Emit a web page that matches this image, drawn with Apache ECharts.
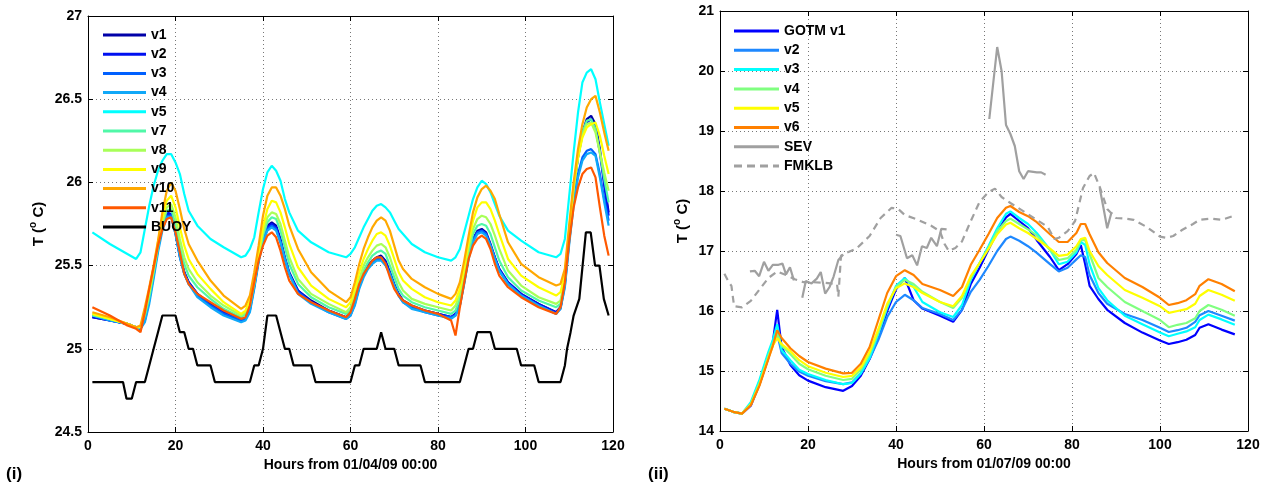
<!DOCTYPE html>
<html><head><meta charset="utf-8">
<script src="https://cdn.jsdelivr.net/npm/echarts@6/dist/echarts.min.js"></script>
<style>html,body{margin:0;padding:0;background:#fff}#c{width:1276px;height:488px}</style>
</head><body><div id="c"></div>
<script>
// ---------- Panel (i) ----------
const hoursL = [1,5,9,11, 12,13,14,15,16,17,18,19,20,21,22,23, 25,28,31, 35,36,37,38,39,40,41,42,43,44,45,46, 48,51,55, 59,60,61,62,63,64,65,66,67,68,69,70,71,72, 74,77,80, 83,84,85,86,87,88,89,90,91,92,93,94, 96,99,103, 107,108,109,110,111,112,113,114,115,116,117,118,119];
const v1L = [25.19,25.17,25.15,25.13, 25.12,25.18,25.30,25.45,25.61,25.74,25.81,25.80,25.70,25.56,25.46,25.40, 25.33,25.27,25.22, 25.17,25.18,25.24,25.38,25.54,25.66,25.74,25.76,25.74,25.66,25.55,25.46, 25.35,25.29,25.23, 25.19,25.21,25.28,25.38,25.45,25.50,25.53,25.55,25.56,25.53,25.46,25.39,25.33,25.29, 25.26,25.23,25.21, 25.19,25.21,25.27,25.41,25.56,25.66,25.71,25.72,25.70,25.63,25.55,25.48, 25.40,25.33,25.27, 25.22,25.25,25.40,25.70,25.96,26.16,26.30,26.38,26.40,26.35,26.20,26.00,25.82];
const v2L = [25.19,25.17,25.15,25.13, 25.12,25.18,25.30,25.45,25.61,25.74,25.82,25.81,25.70,25.56,25.46,25.40, 25.33,25.26,25.22, 25.17,25.18,25.24,25.38,25.54,25.66,25.73,25.75,25.73,25.65,25.54,25.45, 25.35,25.28,25.23, 25.19,25.21,25.28,25.38,25.45,25.50,25.53,25.55,25.55,25.52,25.46,25.38,25.33,25.29, 25.25,25.23,25.21, 25.19,25.21,25.27,25.41,25.56,25.66,25.70,25.71,25.69,25.62,25.55,25.48, 25.40,25.33,25.27, 25.22,25.25,25.40,25.69,25.95,26.15,26.29,26.36,26.38,26.33,26.18,25.98,25.80];
const v3L = [25.20,25.17,25.15,25.13, 25.12,25.17,25.29,25.44,25.60,25.73,25.80,25.80,25.69,25.55,25.45,25.39, 25.32,25.26,25.21, 25.17,25.18,25.23,25.37,25.53,25.65,25.72,25.74,25.72,25.64,25.54,25.45, 25.34,25.28,25.22, 25.18,25.20,25.27,25.37,25.44,25.49,25.52,25.54,25.54,25.51,25.45,25.38,25.32,25.28, 25.25,25.22,25.20, 25.19,25.20,25.26,25.40,25.55,25.65,25.70,25.71,25.69,25.62,25.54,25.47, 25.39,25.32,25.26, 25.21,25.24,25.38,25.65,25.88,26.05,26.15,26.19,26.20,26.17,26.05,25.90,25.77];
const v4L = [25.20,25.17,25.15,25.13, 25.12,25.16,25.27,25.42,25.58,25.71,25.79,25.79,25.69,25.55,25.45,25.39, 25.31,25.25,25.20, 25.16,25.17,25.22,25.36,25.52,25.64,25.71,25.73,25.71,25.64,25.54,25.45, 25.33,25.27,25.22, 25.18,25.20,25.26,25.36,25.43,25.48,25.51,25.53,25.53,25.50,25.45,25.38,25.32,25.28, 25.24,25.22,25.20, 25.18,25.20,25.26,25.39,25.54,25.64,25.69,25.70,25.68,25.62,25.54,25.47, 25.39,25.32,25.26, 25.21,25.24,25.37,25.63,25.86,26.03,26.13,26.17,26.18,26.16,26.03,25.88,25.74];
const v5L = [25.70,25.63,25.57,25.54, 25.58,25.72,25.86,25.98,26.07,26.13,26.17,26.17,26.12,26.05,25.93,25.83, 25.74,25.66,25.61, 25.55,25.56,25.60,25.67,25.82,25.96,26.06,26.10,26.07,26.01,25.90,25.82, 25.71,25.64,25.58, 25.55,25.57,25.61,25.67,25.73,25.78,25.83,25.86,25.87,25.85,25.82,25.77,25.72,25.69, 25.63,25.58,25.55, 25.53,25.55,25.60,25.70,25.80,25.90,25.97,26.01,25.99,25.94,25.87,25.80, 25.71,25.65,25.58, 25.55,25.57,25.66,25.92,26.18,26.42,26.60,26.66,26.68,26.62,26.48,26.35,26.22];
const v7L = [25.20,25.18,25.15,25.13, 25.13,25.20,25.31,25.46,25.61,25.75,25.83,25.84,25.75,25.61,25.51,25.44, 25.37,25.30,25.24, 25.19,25.21,25.26,25.39,25.55,25.68,25.76,25.79,25.78,25.71,25.61,25.51, 25.39,25.31,25.25, 25.21,25.23,25.31,25.40,25.47,25.52,25.56,25.58,25.59,25.57,25.50,25.43,25.36,25.32, 25.28,25.25,25.23, 25.21,25.23,25.30,25.43,25.58,25.69,25.74,25.75,25.74,25.69,25.61,25.53, 25.43,25.35,25.29, 25.25,25.27,25.41,25.70,25.96,26.16,26.30,26.37,26.38,26.32,26.18,26.02,25.88];
const v8L = [25.21,25.18,25.15,25.13, 25.13,25.21,25.33,25.47,25.62,25.76,25.85,25.87,25.79,25.66,25.55,25.48, 25.40,25.32,25.26, 25.20,25.22,25.27,25.40,25.56,25.70,25.79,25.82,25.81,25.75,25.65,25.55, 25.42,25.33,25.27, 25.22,25.25,25.33,25.42,25.50,25.55,25.59,25.62,25.63,25.61,25.55,25.47,25.40,25.35, 25.30,25.27,25.25, 25.23,25.26,25.33,25.46,25.61,25.72,25.78,25.80,25.79,25.75,25.68,25.60, 25.47,25.38,25.31, 25.27,25.29,25.42,25.70,25.96,26.15,26.28,26.35,26.36,26.30,26.18,26.06,25.95];
const v9L = [25.21,25.18,25.15,25.13, 25.13,25.23,25.35,25.49,25.64,25.79,25.89,25.92,25.85,25.73,25.62,25.54, 25.45,25.36,25.28, 25.21,25.23,25.29,25.42,25.58,25.73,25.84,25.89,25.88,25.82,25.73,25.63, 25.49,25.38,25.30, 25.25,25.28,25.36,25.46,25.54,25.60,25.65,25.69,25.70,25.68,25.62,25.54,25.46,25.41, 25.36,25.31,25.28, 25.26,25.29,25.36,25.49,25.64,25.77,25.85,25.88,25.88,25.84,25.77,25.69, 25.54,25.44,25.37, 25.32,25.34,25.45,25.72,25.98,26.15,26.27,26.33,26.35,26.36,26.28,26.16,26.05];
const v10L = [25.22,25.19,25.15,25.13, 25.14,25.25,25.37,25.50,25.65,25.82,25.95,26.00,25.95,25.84,25.72,25.63, 25.53,25.41,25.32, 25.24,25.26,25.32,25.46,25.62,25.80,25.92,25.97,25.97,25.92,25.84,25.74, 25.60,25.46,25.35, 25.28,25.31,25.40,25.51,25.60,25.67,25.73,25.77,25.79,25.77,25.71,25.62,25.53,25.48, 25.42,25.37,25.33, 25.30,25.33,25.40,25.53,25.68,25.82,25.91,25.96,25.98,25.95,25.90,25.81, 25.64,25.51,25.43, 25.38,25.39,25.48,25.75,26.00,26.20,26.35,26.45,26.50,26.52,26.42,26.30,26.19];
const v11L = [25.25,25.20,25.14,25.12, 25.10,25.22,25.36,25.49,25.62,25.72,25.78,25.79,25.70,25.58,25.45,25.39, 25.33,25.28,25.23, 25.18,25.19,25.26,25.40,25.53,25.62,25.68,25.70,25.67,25.59,25.49,25.41, 25.33,25.28,25.23, 25.19,25.22,25.30,25.39,25.45,25.49,25.53,25.55,25.55,25.51,25.43,25.36,25.32,25.29, 25.26,25.23,25.21, 25.17,25.08,25.25,25.40,25.54,25.62,25.66,25.68,25.66,25.60,25.51,25.44, 25.37,25.31,25.25, 25.21,25.25,25.40,25.65,25.85,25.97,26.05,26.08,26.09,26.03,25.85,25.68,25.56];
const buoyHours = [1,8,8.8,10,11,13,14,15,16,17,20,21,22,23,24,25,28,29,37,38,39,40,41,43,44,45,46,47,51,52,60,61,62,63,66,67,68,70,71,76,77,85,86,87,88,89,92,93,98,99,102,103,108,109,109.5,110.3,111,112.3,113.8,114.9,115.9,116.9,117.9,119];
const buoyTemps = [24.8,24.8,24.7,24.7,24.8,24.8,24.9,25.0,25.1,25.2,25.2,25.1,25.1,25.0,25.0,24.9,24.9,24.8,24.8,24.9,24.9,25.0,25.2,25.2,25.1,25.0,25.0,24.9,24.9,24.8,24.8,24.9,24.9,25.0,25.0,25.1,25.0,25.0,24.9,24.9,24.8,24.8,24.9,25.0,25.0,25.1,25.1,25.0,25.0,24.9,24.9,24.8,24.8,24.9,25.0,25.1,25.2,25.3,25.7,25.7,25.5,25.5,25.3,25.2];

// ---------- Panel (ii) ----------
const hoursR = [1,3,5,7,9,11, 12,13,14,16,18,20, 24,28,30,32,34,36, 38,40,42,44,46,50, 53,55,57,59,61,63, 65,66,68,70,72,75, 77,79,81,82,83,84, 86,88,92,96,100,102, 104,106,108,109,111,114, 117];
const g1R = [14.37,14.32,14.29,14.42,14.78,15.22, 15.48,16.02,15.40,15.10,14.93,14.84, 14.73,14.67,14.75,14.92,15.20,15.56, 16.00,16.36,16.55,16.18,16.04,15.92, 15.82,16.02,16.45,16.72,17.02,17.32, 17.56,17.62,17.50,17.38,17.18,16.90, 16.68,16.78,16.95,17.10,16.78,16.42, 16.20,16.02,15.80,15.64,15.51,15.45, 15.48,15.52,15.60,15.72,15.78,15.69, 15.61];
const g2R = [14.37,14.32,14.29,14.46,14.83,15.28, 15.48,15.62,15.30,15.12,14.99,14.92, 14.83,14.78,14.81,14.96,15.20,15.52, 15.90,16.15,16.27,16.18,16.05,15.95, 15.85,16.02,16.32,16.52,16.75,17.00, 17.20,17.24,17.17,17.08,16.97,16.78, 16.66,16.72,16.86,16.93,16.90,16.60, 16.30,16.12,15.95,15.85,15.72,15.65, 15.68,15.72,15.82,15.93,16.00,15.92, 15.84];
const g3R = [14.37,14.32,14.29,14.48,14.86,15.32, 15.52,15.78,15.35,15.18,15.02,14.95, 14.85,14.78,14.80,14.96,15.22,15.62, 16.05,16.42,16.55,16.40,16.15,15.98, 15.90,16.10,16.52,16.80,17.08,17.38, 17.62,17.66,17.55,17.45,17.30,17.02, 16.78,16.82,16.98,17.15,17.10,16.78, 16.38,16.18,15.92,15.78,15.64,15.58, 15.62,15.66,15.73,15.85,15.94,15.86, 15.77];
const g4R = [14.37,14.32,14.29,14.45,14.80,15.25, 15.45,15.62,15.42,15.28,15.12,15.03, 14.92,14.85,14.87,15.02,15.28,15.65, 16.08,16.40,16.52,16.45,16.32,16.15, 16.05,16.22,16.55,16.80,17.05,17.33, 17.50,17.54,17.45,17.36,17.26,17.02, 16.85,16.88,17.02,17.18,17.18,16.95, 16.55,16.40,16.15,16.00,15.85,15.73, 15.77,15.80,15.88,16.00,16.10,16.02, 15.92];
const g5R = [14.37,14.32,14.29,14.44,14.78,15.22, 15.42,15.55,15.45,15.33,15.18,15.08, 14.97,14.90,14.92,15.06,15.32,15.70, 16.12,16.38,16.46,16.40,16.30,16.15, 16.08,16.25,16.58,16.80,17.03,17.28, 17.44,17.47,17.38,17.30,17.20,17.04, 16.92,16.94,17.08,17.20,17.22,17.00, 16.75,16.60,16.35,16.22,16.08,15.97, 16.00,16.03,16.12,16.25,16.35,16.27, 16.17];
const g6R = [14.37,14.32,14.29,14.43,14.76,15.20, 15.42,15.68,15.55,15.38,15.25,15.15, 15.04,14.96,14.97,15.12,15.40,15.85, 16.30,16.58,16.68,16.60,16.45,16.35, 16.25,16.40,16.77,17.02,17.28,17.55, 17.72,17.75,17.65,17.58,17.48,17.28, 17.15,17.15,17.30,17.45,17.45,17.28, 16.98,16.80,16.55,16.40,16.22,16.10, 16.13,16.18,16.28,16.42,16.53,16.45, 16.33];
// SEV (gaps marked with null)
const sevHours = [6.8,7.9,8.9,10,11,12,13.3,14.2,15,15.9,16.8, 17.8, 18.7,19.5,20.8,22,22.9,23.9,24.9,25.8,26.9,28, 34, 40,41,42.5,43.7,44.8,45.9,47,48,49.3,50.3,51.5, 56, 61.2,63,64,65,66,67,68,69,70,72,73,74, 80, 86.3,87.2,88,89];
const sevTemps = [16.66,16.67,16.58,16.82,16.67,16.77,16.77,16.79,16.61,16.73,16.51, null, 16.22,16.5,16.46,16.54,16.65,16.29,16.4,16.57,16.85,16.94, null, 17.27,17.25,16.88,16.93,16.76,17.08,17.05,17.22,17.08,17.37,17.36, null, 19.2,20.4,20.0,19.1,18.95,18.75,18.33,18.2,18.33,18.31,18.31,18.27, null, 18.05,17.7,17.38,17.65];
const fmkHours = [1,2,2.6,3.2,5,7,9,11,13,15,17,19,21,24,26.6,26.9,27.5,28.5,31,34,36.5,39,40.5,42,45,48,50,51,52,53.5,55,57,59,61,62.5,64,66,69,72,74.5,76,77,79,80.7,82.5,84,85,86.4,88,90,92,94,97,100,101.5,103,105,107.5,109,111.5,114,116.5];
const fmkTemps = [16.62,16.48,16.42,16.08,16.06,16.17,16.36,16.55,16.66,16.6,16.53,16.48,16.48,16.47,16.45,16.24,16.92,16.96,17.04,17.25,17.55,17.72,17.7,17.6,17.52,17.42,17.33,17.12,17.0,17.05,17.16,17.5,17.82,17.98,18.04,17.9,17.8,17.66,17.52,17.4,17.2,17.22,17.33,17.5,18.05,18.25,18.3,18.05,17.7,17.55,17.54,17.52,17.4,17.24,17.22,17.25,17.35,17.45,17.52,17.54,17.52,17.58];

const FONT = '"Liberation Sans", Arial, Helvetica, sans-serif';
function pairs(h, v) { return h.map((x, i) => [x, (v[i] === null || v[i] === undefined) ? '-' : v[i]]); }

const chart = echarts.init(document.getElementById('c'), null, {renderer: 'canvas'});
const lbl = {color: '#000', fontWeight: 'bold', fontSize: 14, fontFamily: FONT};
const gridLine = {show: true, lineStyle: {type: [1, 3], color: '#777', width: 1}};
function xMain(gi, name) {
  return {gridIndex: gi, type: 'value', min: 0, max: 120, interval: 20, position: 'bottom',
    axisLine: {show: true, onZero: false, lineStyle: {color: '#000', width: 1}},
    axisTick: {show: true, inside: true, length: 5, lineStyle: {color: '#000'}},
    axisLabel: Object.assign({margin: 7}, lbl), splitLine: gridLine,
    name: name, nameLocation: 'middle', nameGap: 22,
    nameTextStyle: {color: '#000', fontWeight: 'bold', fontSize: 14, fontFamily: FONT}};
}
function xTop(gi) {
  return {gridIndex: gi, type: 'value', min: 0, max: 120, interval: 20, position: 'top',
    axisLine: {show: true, onZero: false, lineStyle: {color: '#000', width: 1}},
    axisTick: {show: true, inside: true, length: 5, lineStyle: {color: '#000'}},
    axisLabel: {show: false}, splitLine: {show: false}};
}
function yMain(gi, min, max, iv, gap) {
  return {gridIndex: gi, type: 'value', min: min, max: max, interval: iv, position: 'left',
    axisLine: {show: true, onZero: false, lineStyle: {color: '#000', width: 1}},
    axisTick: {show: true, inside: true, length: 5, lineStyle: {color: '#000'}},
    axisLabel: Object.assign({margin: 6}, lbl), splitLine: gridLine,
    name: '{a|T (}{s|o}{a| C)}', nameLocation: 'middle', nameRotate: 90, nameGap: gap,
    nameTextStyle: {rich: {
      a: {color: '#000', fontWeight: 'bold', fontSize: 15, fontFamily: FONT, lineHeight: 18, verticalAlign: 'bottom'},
      s: {color: '#000', fontWeight: 'bold', fontSize: 10, fontFamily: FONT, lineHeight: 18, verticalAlign: 'top'}}}};
}
function yRight(gi, min, max, iv) {
  return {gridIndex: gi, type: 'value', min: min, max: max, interval: iv, position: 'right',
    axisLine: {show: true, onZero: false, lineStyle: {color: '#000', width: 1}},
    axisTick: {show: true, inside: true, length: 5, lineStyle: {color: '#000'}},
    axisLabel: {show: false}, splitLine: {show: false}};
}
function line(name, data, color, xi, yi, dash) {
  return {name: name, type: 'line', data: data, xAxisIndex: xi, yAxisIndex: yi,
    symbol: 'none', showSymbol: false, smooth: false, connectNulls: false, animation: false,
    lineStyle: {color: color, width: 2.2, type: dash || 'solid'}, itemStyle: {color: color},
    emphasis: {disabled: true}};
}

const leftSeries = [
  line('v1', pairs(hoursL, v1L), '#0000A8', 0, 0),
  line('v2', pairs(hoursL, v2L), '#0010F0', 0, 0),
  line('v3', pairs(hoursL, v3L), '#0060FF', 0, 0),
  line('v4', pairs(hoursL, v4L), '#10A8F8', 0, 0),
  line('v5', pairs(hoursL, v5L), '#00FFFF', 0, 0),
  line('v7', pairs(hoursL, v7L), '#50F8A8', 0, 0),
  line('v8', pairs(hoursL, v8L), '#A8FF58', 0, 0),
  line('v9', pairs(hoursL, v9L), '#FFFF00', 0, 0),
  line('v10', pairs(hoursL, v10L), '#FFA800', 0, 0),
  line('v11', pairs(hoursL, v11L), '#FF5800', 0, 0),
  line('BUOY', pairs(buoyHours, buoyTemps), '#000000', 0, 0)
];
const rightSeries = [
  line('GOTM v1', pairs(hoursR, g1R), '#0000FF', 2, 2),
  line('v2 ', pairs(hoursR, g2R), '#1E88FF', 2, 2),
  line('v3 ', pairs(hoursR, g3R), '#00FFFF', 2, 2),
  line('v4 ', pairs(hoursR, g4R), '#80FF80', 2, 2),
  line('v5 ', pairs(hoursR, g5R), '#FFFF00', 2, 2),
  line('v6', pairs(hoursR, g6R), '#FF8000', 2, 2),
  line('SEV', pairs(sevHours, sevTemps), '#A0A0A0', 2, 2),
  line('FMKLB', pairs(fmkHours, fmkTemps), '#A0A0A0', 2, 2, [7, 5])
];

const legendText = {color: '#000', fontWeight: 'bold', fontSize: 14, fontFamily: FONT, lineHeight: 14};
const DASH_ICON = 'path://M0,0h8v3h-8z M13,0h8v3h-8z M26,0h8v3h-8z M39,0h6v3h-6z';
function legendData(names) {
  return names.map(n => ({name: n, icon: n === 'FMKLB' ? DASH_ICON : 'rect'}));
}
chart.setOption({
  animation: false,
  backgroundColor: '#fff',
  grid: [
    {left: 88, top: 16, width: 525, height: 416, show: false},
    {left: 720, top: 11, width: 528, height: 420, show: false}
  ],
  xAxis: [xMain(0, 'Hours from 01/04/09 00:00'), xTop(0), xMain(1, 'Hours from 01/07/09 00:00'), xTop(1)],
  yAxis: [yMain(0, 24.5, 27, 0.5, 42), yRight(0, 24.5, 27, 0.5), yMain(1, 14, 21, 1, 30), yRight(1, 14, 21, 1)],
  legend: [
    {data: legendData(['v1','v2','v3','v4','v5','v7','v8','v9','v10','v11','BUOY']), orient: 'vertical',
      left: 103, top: 28, padding: 0, itemWidth: 43, itemHeight: 3, itemGap: 5.2, symbolKeepAspect: false,
      textStyle: legendText, selectedMode: false},
    {data: legendData(['GOTM v1','v2 ','v3 ','v4 ','v5 ','v6','SEV','FMKLB']), orient: 'vertical',
      left: 734, top: 24, padding: 0, itemWidth: 45, itemHeight: 3, itemGap: 5.3, symbolKeepAspect: false,
      textStyle: legendText, selectedMode: false}
  ],
  graphic: [
    {type: 'text', left: 6, top: 466, style: {text: '(i)', fill: '#000', font: 'bold 17px ' + FONT}},
    {type: 'text', left: 648, top: 466, style: {text: '(ii)', fill: '#000', font: 'bold 17px ' + FONT}}
  ],
  series: leftSeries.concat(rightSeries)
});
</script></body></html>
